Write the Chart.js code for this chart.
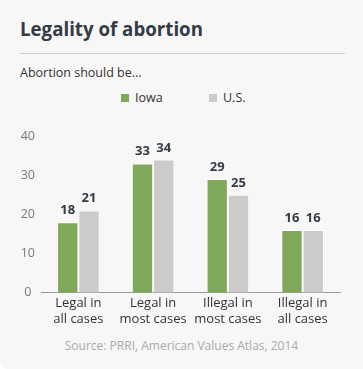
<!DOCTYPE html>
<html>
<head>
<meta charset="utf-8">
<script src="https://cdn.jsdelivr.net/npm/chart.js@4"></script>
<style>
  html, body { margin: 0; padding: 0; background: #ffffff; }
  #card {
    position: relative; width: 363px; height: 369px;
    background: #f7f7f7; border-radius: 0 0 0 8px; overflow: hidden;
    font-family: "Open Sans", sans-serif;
  }
  #title {
    position: absolute; left: 20px; top: 15px;
    font-size: 18.7px; font-weight: 700; color: #333b45; line-height: 28px;
  }
  #rule { position: absolute; left: 20px; top: 53px; width: 325px; height: 1px; background: #cccccc; }
  #sub { position: absolute; left: 20px; top: 64px; font-size: 12.5px; color: #333; line-height: 18px; }
  #legend { position: absolute; top: 90px; left: 0; width: 363px; height: 16px; font-size: 12.5px; color: #333; }
  #legend span.item { position: absolute; line-height: 16px; }
  #legend span.box { display: inline-block; width: 8px; height: 8px; margin-right: 6px; vertical-align: 0px; }
  #chartWrap { position: absolute; left: 0; top: 120px; width: 363px; height: 214px; }
  #source {
    position: absolute; left: 0; width: 363px; top: 338px; text-align: center;
    font-size: 12px; color: #aaaaaa; line-height: 16px;
  }
</style>
</head>
<body>
<div id="card">
  <div id="title">Legality of abortion</div>
  <div id="rule"></div>
  <div id="sub">Abortion should be...</div>
  <div id="legend"></div>
  <div id="chartWrap"><canvas id="myChart"></canvas></div>
  <div id="source">Source: PRRI, American Values Atlas, 2014</div>
</div>
<script>
// Daten
const categories = [
  ['Legal in', 'all cases'],
  ['Legal in', 'most cases'],
  ['Illegal in', 'most cases'],
  ['Illegal in', 'all cases']
];
const iowa = [18, 33, 29, 16];
const us = [21, 34, 25, 16];
const seriesNames = ['Iowa', 'U.S.'];
const seriesColors = ['#80a85a', '#cbcbcb'];
const yTicks = [0, 10, 20, 30, 40];

// legend in html
const legendX = [121, 209];
const legend = document.getElementById('legend');
seriesNames.forEach((name, i) => {
  const item = document.createElement('span');
  item.className = 'item';
  item.style.left = legendX[i] + 'px';
  item.innerHTML = '<span class="box" style="background:' + seriesColors[i] + '"></span>' + name;
  legend.appendChild(item);
});

// values above bars
const valueLabels = {
  id: 'valueLabels',
  afterDatasetsDraw(chart) {
    const ctx = chart.ctx;
    ctx.save();
    ctx.font = 'bold 13px "Open Sans"';
    ctx.fillStyle = '#333b45';
    ctx.textAlign = 'center';
    ctx.textBaseline = 'alphabetic';
    chart.data.datasets.forEach((ds, i) => {
      chart.getDatasetMeta(i).data.forEach((bar, j) => {
        ctx.fillText(ds.data[j], bar.x, bar.y - 8);
      });
    });
    ctx.restore();
  }
};

const ctx = document.getElementById('myChart').getContext('2d');
new Chart(ctx, {
  type: 'bar',
  data: {
    labels: categories,
    datasets: [
      { label: seriesNames[0], data: iowa, backgroundColor: seriesColors[0] },
      { label: seriesNames[1], data: us, backgroundColor: seriesColors[1] }
    ]
  },
  options: {
    responsive: true,
    maintainAspectRatio: false,
    animation: false,
    datasets: {
      bar: {
        categoryPercentage: 0.57,
        barPercentage: 1,
        borderWidth: 1,
        borderColor: 'rgba(255,255,255,0.7)',
        borderSkipped: 'bottom'
      }
    },
    layout: { padding: { top: 16, left: 21, right: 23, bottom: 4 } },
    scales: {
      x: {
        grid: { display: false, drawTicks: false },
        border: { display: true, color: '#999999', width: 1 },
        ticks: {
          color: '#333333',
          padding: 3,
          maxRotation: 0,
          autoSkip: false,
          font: { family: '"Open Sans"', size: 13, lineHeight: 1.2 }
        }
      },
      y: {
        min: 0,
        max: 40,
        grid: { display: false, drawTicks: false },
        border: { display: false },
        afterBuildTicks: axis => { axis.ticks = yTicks.map(v => ({ value: v })); },
        afterFit: axis => { axis.width = 20; },
        ticks: {
          color: '#777777',
          padding: 6,
          crossAlign: 'center',
          font: { family: '"Open Sans"', size: 12.5 }
        }
      }
    },
    plugins: {
      legend: { display: false },
      tooltip: { enabled: false }
    }
  },
  plugins: [valueLabels]
});
</script>
</body>
</html>
